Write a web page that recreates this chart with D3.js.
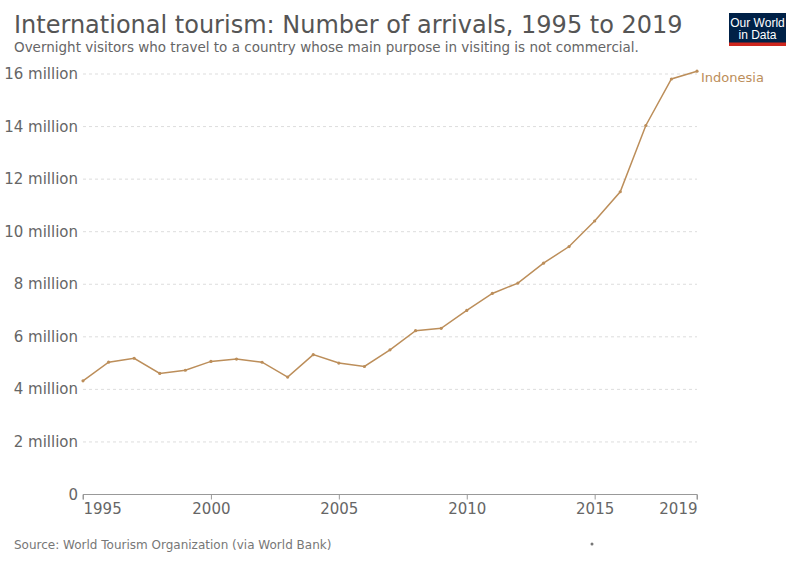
<!DOCTYPE html>
<html><head><meta charset="utf-8">
<script src="https://cdn.jsdelivr.net/npm/d3@7"></script>
<style>body{margin:0;background:#fff}svg{display:block;font-family:"DejaVu Sans",sans-serif}</style>
</head><body>
<svg id="c" width="800" height="565"></svg>
<script>
const years = [1995,1996,1997,1998,1999,2000,2001,2002,2003,2004,2005,2006,2007,2008,2009,2010,2011,2012,2013,2014,2015,2016,2017,2018,2019];
const arrivals = [4.324,5.034,5.185,4.606,4.728,5.064,5.154,5.033,4.467,5.321,5.002,4.871,5.506,6.234,6.324,7.003,7.650,8.044,8.802,9.435,10.407,11.519,14.040,15.810,16.106].map(v=>v*1e6);
const yTicks = [0,2e6,4e6,6e6,8e6,10e6,12e6,14e6,16e6];
const xTicks = [1995,2000,2005,2010,2015,2019];
const seriesName = "Indonesia";
const color = "#BC8E5A";

const svg = d3.select("#c");
const x = d3.scaleLinear().domain([1995,2019]).range([83,697]);
const y = d3.scaleLinear().domain([0,16e6]).range([494.5,74]);

svg.append("text").attr("x",14).attr("y",33).attr("font-size",24).attr("fill","#555").text("International tourism: Number of arrivals, 1995 to 2019");
svg.append("text").attr("x",14).attr("y",52).attr("font-size",13.5).attr("fill","#666").text("Overnight visitors who travel to a country whose main purpose in visiting is not commercial.");

// logo
const logo = svg.append("g");
logo.append("rect").attr("x",729).attr("y",13).attr("width",57).attr("height",33).attr("fill","#002147");
logo.append("rect").attr("x",729).attr("y",42.5).attr("width",57).attr("height",3.5).attr("fill","#ce261e");
logo.append("text").attr("x",757.5).attr("y",26.5).attr("text-anchor","middle").attr("font-size",12).attr("fill","#fff").attr("font-family","Liberation Sans Narrow, Liberation Sans, sans-serif").text("Our World");
logo.append("text").attr("x",757.5).attr("y",39).attr("text-anchor","middle").attr("font-size",12).attr("fill","#fff").attr("font-family","Liberation Sans Narrow, Liberation Sans, sans-serif").text("in Data");

// grid
const fmt = v => v===0 ? "0" : (v/1e6)+" million";
svg.append("g").selectAll("line").data(yTicks.filter(d=>d>0)).join("line")
  .attr("x1",83).attr("x2",697).attr("y1",d=>y(d)).attr("y2",d=>y(d))
  .attr("stroke","#ddd").attr("stroke-dasharray","3,3");
svg.append("g").selectAll("text").data(yTicks).join("text")
  .attr("x",78).attr("y",d=>y(d)+5).attr("text-anchor","end").attr("font-size",15).attr("fill","#666").text(fmt);

// x axis
const xAxis = d3.axisBottom(x).tickValues(xTicks).tickSize(5).tickFormat(d3.format("d"));
const gx = svg.append("g").attr("transform",`translate(0,${y(0)})`).call(xAxis);
gx.select(".domain").attr("stroke","#999").attr("d","M83,5V0H697V5");
gx.selectAll(".tick line").attr("stroke","#999");
gx.selectAll(".tick text").attr("font-size",15).attr("fill","#666").attr("font-family","DejaVu Sans").attr("dy","0.71em").attr("y",9)
  .attr("text-anchor",(d,i)=> i===0?"start": (i===xTicks.length-1?"end":"middle"));

// line
const pts = years.map((yr,i)=>[yr,arrivals[i]]);
svg.append("path").datum(pts).attr("fill","none").attr("stroke",color).attr("stroke-width",1.5)
  .attr("d",d3.line().x(d=>x(d[0])).y(d=>y(d[1])));
svg.append("g").selectAll("circle").data(pts).join("circle").attr("cx",d=>x(d[0])).attr("cy",d=>y(d[1])).attr("r",1.6).attr("fill",color);
svg.append("text").attr("x",701).attr("y",y(arrivals[arrivals.length-1])+10.5).attr("font-size",13).attr("fill",color).text(seriesName);

svg.append("text").attr("x",14).attr("y",549).attr("font-size",12).attr("fill","#777").text("Source: World Tourism Organization (via World Bank)");
svg.append("circle").attr("cx",592).attr("cy",544).attr("r",1.5).attr("fill","#777");
</script>
</body></html>
